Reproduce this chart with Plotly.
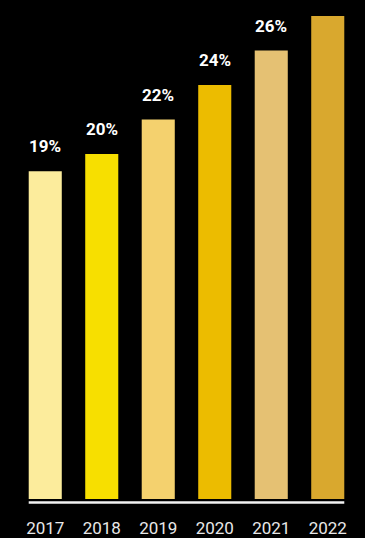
import plotly.graph_objects as go

years = ["2017", "2018", "2019", "2020", "2021", "2022"]
values = [19, 20, 22, 24, 26, 28]
# the 2022 label lies above the visible area in the reference
labels = ["19%", "20%", "22%", "24%", "26%", ""]
colors = ["#FCEC9C", "#F7DF00", "#F4D16E", "#ECBC00", "#E5C173", "#D9A82E"]

xs = list(range(len(years)))
bar_w = 0.585

fig = go.Figure()
fig.add_trace(go.Bar(
    x=xs, y=values, width=bar_w,
    marker=dict(color=colors, line=dict(width=0)),
    hoverinfo="skip",
))

for xi, v, t in zip(xs, values, labels):
    if not t:
        continue
    fig.add_annotation(
        x=xi, y=v, text=t, showarrow=False,
        yanchor="bottom", yshift=13,
        font=dict(family="Roboto", size=17, color="#FFFFFF", weight="bold"),
    )

fig.add_shape(
    type="line", xref="x", yref="y",
    x0=xs[0] - bar_w / 2, x1=xs[-1] + bar_w / 2,
    ysizemode="pixel", yanchor=0, y0=-3.5, y1=-3.5,
    line=dict(color="#F2F2F2", width=2.6),
)

fig.update_layout(
    width=365, height=538,
    margin=dict(l=17, r=9, t=0, b=31),
    paper_bgcolor="#000000", plot_bgcolor="#000000",
    showlegend=False,
    xaxis=dict(
        range=[-0.5, len(years) - 0.5],
        tickvals=xs, ticktext=years,
        showgrid=False, zeroline=False, showline=False, ticks="",
        ticklabelstandoff=11,
        tickfont=dict(family="Roboto", size=17, color="#E8E8E8", weight=400),
        fixedrange=True,
    ),
    yaxis=dict(
        range=[-0.35, 28.93], visible=False, showgrid=False, zeroline=False,
        fixedrange=True,
    ),
)

fig.write_html(
    "out.html",
    config={"displayModeBar": False},
    post_script="document.body.style.margin='0';document.body.style.overflow='hidden';",
)
